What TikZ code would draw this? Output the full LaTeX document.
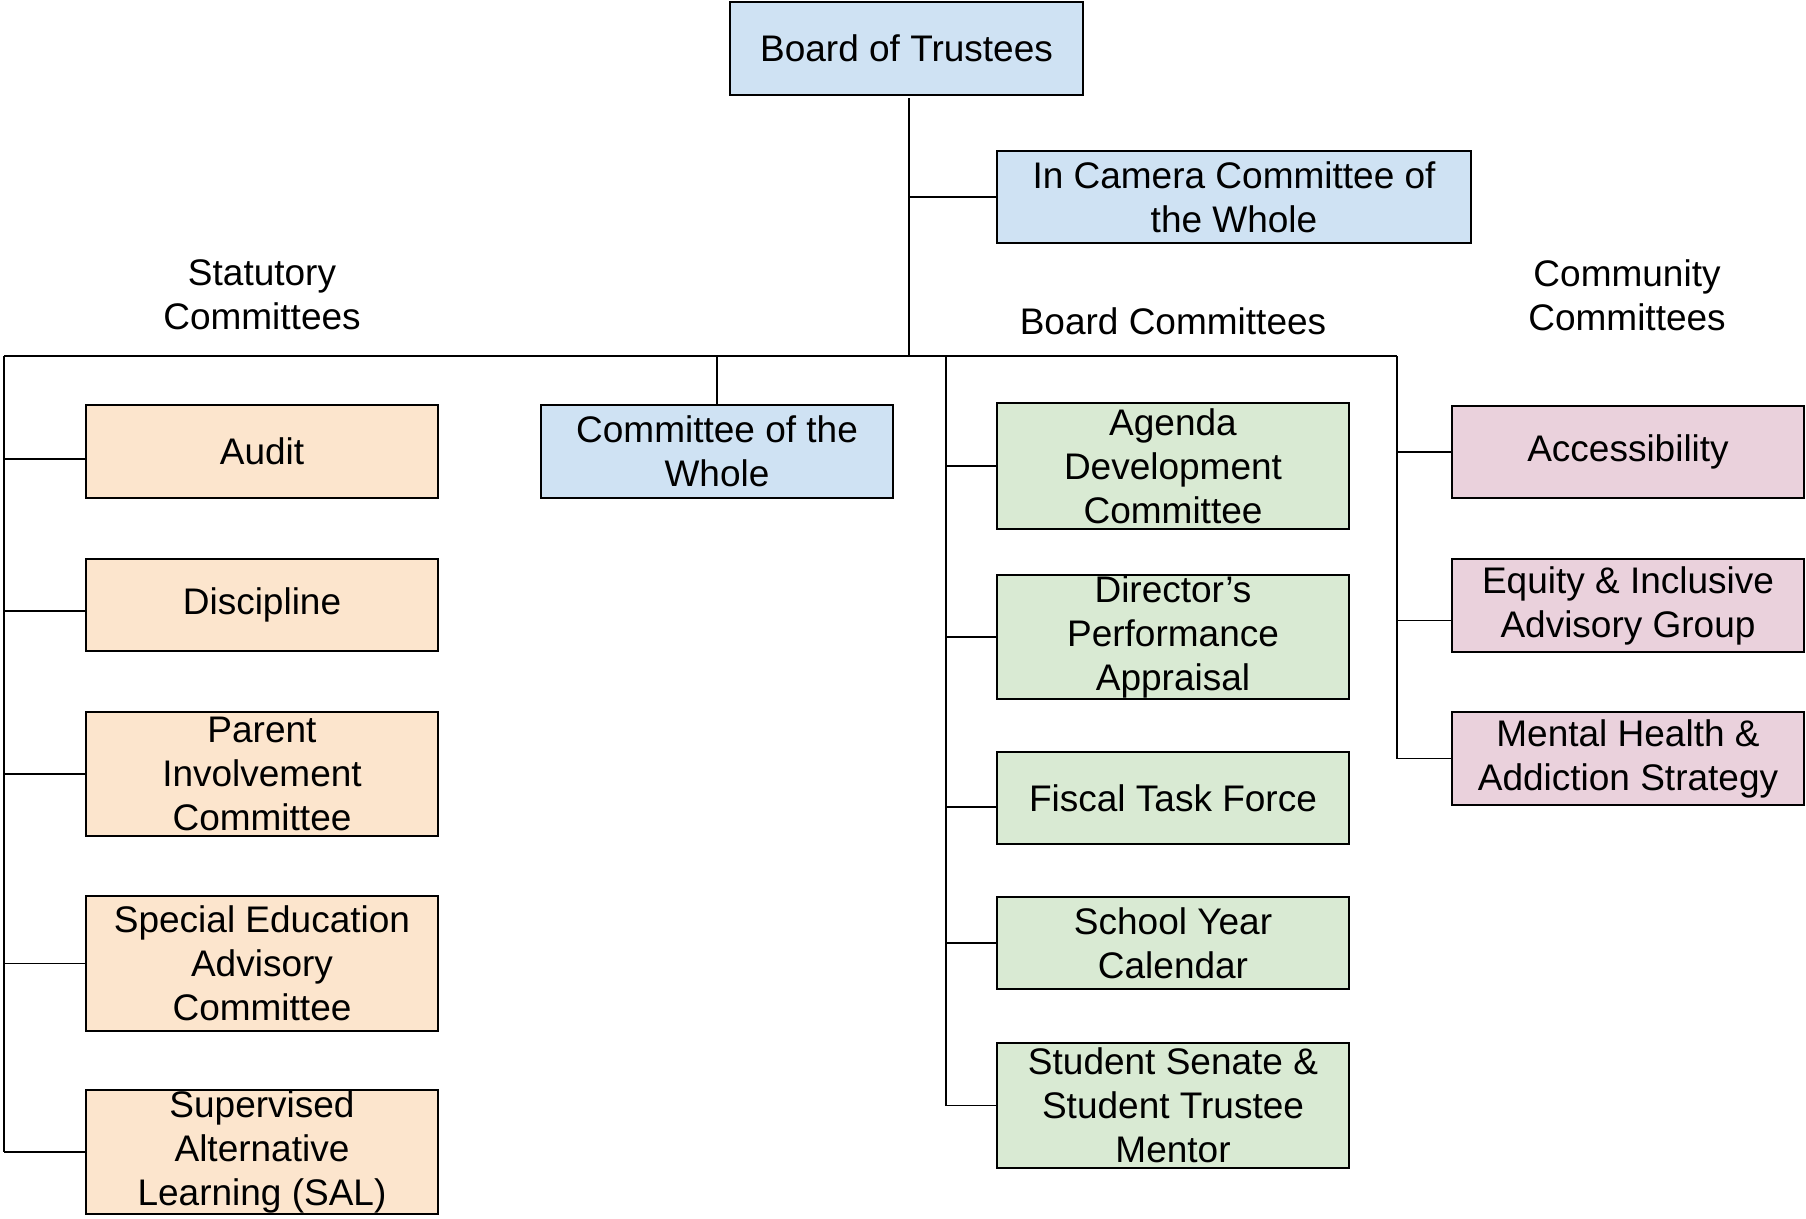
\documentclass[tikz,border=0pt]{standalone}
\usepackage{fontspec}
\setmainfont{Liberation Sans}
\definecolor{bluefill}{HTML}{CFE2F3}
\definecolor{orangefill}{HTML}{FCE5CD}
\definecolor{greenfill}{HTML}{D9EAD3}
\definecolor{pinkfill}{HTML}{EAD1DC}
\begin{document}
\begin{tikzpicture}[x=1pt,y=-1pt,
  every node/.style={font=\fontsize{37}{44}\selectfont, align=center, inner sep=0pt},
  cbox/.style={draw=black, line width=1.6pt, minimum width=352pt},
  bluebox/.style={cbox, fill=bluefill},
  orangebox/.style={cbox, fill=orangefill},
  greenbox/.style={cbox, fill=greenfill},
  pinkbox/.style={cbox, fill=pinkfill},
  link/.style={draw=black, line width=1.8pt},
  heading/.style={}]
\useasboundingbox[fill=white] (0,0) rectangle (1806,1218);

% top of the hierarchy
\node[bluebox, minimum width=353pt, minimum height=93pt] (bot) at (906.5,48.5) {Board of Trustees};
\node[bluebox, minimum width=474pt, minimum height=92pt] (cam) at (1234,197) {In Camera Committee of\\the Whole};

% group headings
\node[heading] (hstat) at (262,295) {Statutory\\Committees};
\node[heading] (hboard) at (1173,321) {Board Committees};
\node[heading] (hcomm) at (1627,295) {Community\\Committees};

% statutory committees
\node[orangebox, minimum height=93pt] (audit) at (262,451.5) {Audit};
\node[orangebox, minimum height=92pt] (disc) at (262,605) {Discipline};
\node[orangebox, minimum height=124pt] (parent) at (262,774) {Parent\\Involvement\\Committee};
\node[orangebox, minimum height=135pt] (sped) at (262,963.5) {Special Education\\Advisory\\Committee};
\node[orangebox, minimum height=124pt] (sal) at (262,1152) {Supervised\\Alternative\\Learning (SAL)};

% committee of the whole
\node[bluebox, minimum height=93pt] (cow) at (717,451.5) {Committee of the\\Whole};

% board committees
\node[greenbox, minimum height=126pt] (agenda) at (1173,466) {Agenda\\Development\\Committee};
\node[greenbox, minimum height=124pt] (dpa) at (1173,637) {Director’s\\Performance\\Appraisal};
\node[greenbox, minimum height=92pt] (fiscal) at (1173,798) {Fiscal Task Force};
\node[greenbox, minimum height=92pt] (syc) at (1173,943) {School Year\\Calendar};
\node[greenbox, minimum height=125pt] (senate) at (1173,1105.5) {Student Senate \&\\Student Trustee\\Mentor};

% community committees
\node[pinkbox, minimum height=92pt] (access) at (1628,452) {Accessibility};
\node[pinkbox, minimum height=93pt] (equity) at (1628,605.5) {Equity \& Inclusive\\Advisory Group};
\node[pinkbox, minimum height=93pt] (mental) at (1628,758.5) {Mental Health \&\\Addiction Strategy};

% connector junctions
\coordinate (hL) at (4,356);
\coordinate (hT) at (909,356);
\coordinate (hB) at (946,356);
\coordinate (hR) at (1397,356);
\coordinate (tr) at (909,98);

% branch entry points that sit a little below a box's middle
\coordinate (auditin) at ([yshift=-7.5pt]audit.west);
\coordinate (discin) at ([yshift=-6pt]disc.west);
\coordinate (fiscalin) at ([yshift=-9pt]fiscal.west);
\coordinate (equityin) at ([yshift=-15pt]equity.west);

% trunk and main bar
\draw[link] (tr) -- (hT);
\draw[link] (tr |- cam.west) -- (cam.west);
\draw[link] (hL) -- (hR);

% statutory branch
\draw[link] (hL) -- (hL |- sal.west);
\draw[link] (hL |- auditin) -- (auditin);
\draw[link] (hL |- discin) -- (discin);
\draw[link] (hL |- parent.west) -- (parent.west);
\draw[link] (hL |- sped.west) -- (sped.west);
\draw[link] (hL |- sal.west) -- (sal.west);

% committee of the whole
\draw[link] (cow.north |- hL) -- (cow.north);

% board committee branch
\draw[link] (hB) -- (hB |- senate.west);
\draw[link] (hB |- agenda.west) -- (agenda.west);
\draw[link] (hB |- dpa.west) -- (dpa.west);
\draw[link] (hB |- fiscalin) -- (fiscalin);
\draw[link] (hB |- syc.west) -- (syc.west);
\draw[link] (hB |- senate.west) -- (senate.west);

% community branch
\draw[link] (hR) -- (hR |- mental.west);
\draw[link] (hR |- access.west) -- (access.west);
\draw[link] (hR |- equityin) -- (equityin);
\draw[link] (hR |- mental.west) -- (mental.west);
\end{tikzpicture}
\end{document}
